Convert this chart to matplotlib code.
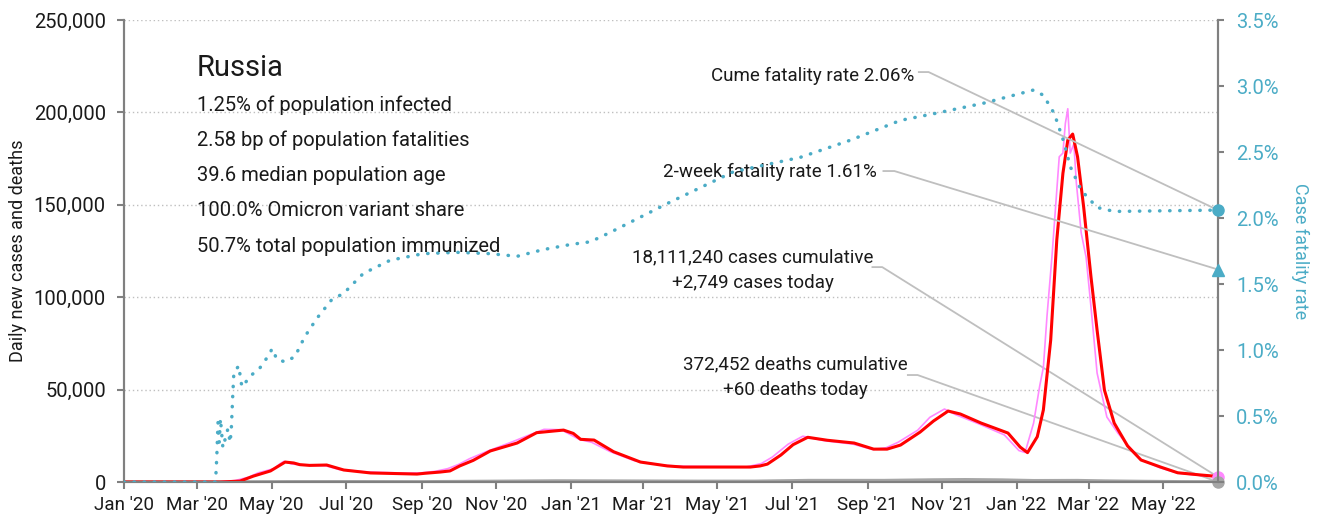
import matplotlib
matplotlib.use("Agg")
import matplotlib.pyplot as plt
import matplotlib.dates as mdates
import numpy as np
import pandas as pd

plt.rcParams['font.family'] = ['Roboto', 'DejaVu Sans']

# daily new cases, 7-day average
avg_dates = ["2020-01-01", "2020-03-20", "2020-04-05", "2020-04-16", "2020-04-30", "2020-05-04",
             "2020-05-12", "2020-05-19", "2020-05-24", "2020-06-01", "2020-06-15", "2020-06-29",
             "2020-07-21", "2020-08-03", "2020-08-28", "2020-09-03", "2020-09-16", "2020-09-24",
             "2020-10-02", "2020-10-13", "2020-10-27", "2020-11-18", "2020-12-04", "2020-12-18",
             "2020-12-26", "2021-01-03", "2021-01-09", "2021-01-20", "2021-02-05", "2021-02-27",
             "2021-03-21", "2021-04-03", "2021-05-28", "2021-06-05", "2021-06-11", "2021-06-22",
             "2021-07-02", "2021-07-14", "2021-07-30", "2021-08-21", "2021-09-06", "2021-09-17",
             "2021-09-28", "2021-10-14", "2021-10-25", "2021-11-06", "2021-11-16", "2021-12-03",
             "2021-12-25", "2022-01-04", "2022-01-10", "2022-01-18", "2022-01-23", "2022-01-29",
             "2022-02-03", "2022-02-08", "2022-02-12", "2022-02-16", "2022-02-20", "2022-02-25",
             "2022-03-03", "2022-03-08", "2022-03-14", "2022-03-22", "2022-04-02", "2022-04-13",
             "2022-04-29", "2022-05-13", "2022-06-01", "2022-06-15"]
avg_cases = [0, 0, 500, 3200, 6000, 7600,
             10800, 10300, 9400, 9000, 9200, 6500,
             4900, 4700, 4300, 4700, 5400, 6000,
             8700, 11700, 16800, 21100, 26700, 27600,
             28100, 26300, 23100, 22700, 16400, 10800,
             8700, 8100, 8100, 8700, 9700, 14600,
             20200, 24200, 22600, 21100, 17800, 17800,
             20000, 27000, 33000, 38400, 36800, 31900,
             26500, 18900, 15900, 24500, 39000, 76800,
             131000, 167000, 185000, 188300, 176000, 148800,
             111000, 82200, 49800, 31900, 19500, 11900,
             8100, 5000, 3800, 3000]

# daily new cases, as reported
raw_dates = ["2020-01-01", "2020-03-18", "2020-04-01", "2020-04-12", "2020-04-20", "2020-04-27",
             "2020-05-03", "2020-05-08", "2020-05-11", "2020-05-17", "2020-05-25", "2020-06-05",
             "2020-06-14", "2020-06-25", "2020-07-15", "2020-07-30", "2020-08-20", "2020-09-01",
             "2020-09-12", "2020-09-22", "2020-10-01", "2020-10-10", "2020-10-24", "2020-11-15",
             "2020-11-30", "2020-12-10", "2020-12-24", "2021-01-01", "2021-01-08", "2021-01-18",
             "2021-02-02", "2021-02-22", "2021-03-18", "2021-04-05", "2021-05-25", "2021-06-06",
             "2021-06-15", "2021-06-28", "2021-07-10", "2021-07-28", "2021-08-20", "2021-09-05",
             "2021-09-16", "2021-09-26", "2021-10-12", "2021-10-22", "2021-11-03", "2021-11-12",
             "2021-12-01", "2021-12-22", "2022-01-03", "2022-01-08", "2022-01-15", "2022-01-20",
             "2022-01-23", "2022-01-26", "2022-01-30", "2022-02-05", "2022-02-08", "2022-02-10",
             "2022-02-12", "2022-02-14", "2022-02-17", "2022-02-19", "2022-02-23", "2022-02-27",
             "2022-03-03", "2022-03-08", "2022-03-16", "2022-03-25", "2022-04-02", "2022-04-12",
             "2022-04-28", "2022-05-13", "2022-06-01", "2022-06-15"]
raw_cases = [0, 0, 800, 2600, 5000, 6200,
             7300, 10000, 11200, 9800, 9200, 9000,
             8800, 6800, 5600, 5200, 4800, 5000,
             5800, 7200, 9500, 12600, 16500, 22000,
             26000, 28500, 28300, 25500, 23000, 21500,
             16500, 11500, 9000, 8500, 8200, 10000,
             13500, 20500, 24800, 22300, 20500, 17600,
             18500, 21500, 28000, 35000, 39500, 36500,
             31500, 25500, 17000, 16000, 31900, 52000,
             62000, 90000, 121700, 176000, 178000, 194000,
             202000, 178000, 183000, 162000, 134700, 121700,
             94700, 59000, 35200, 26500, 20000, 12500,
             7800, 4800, 3500, 2749]

# daily deaths, 7-day average
death_dates = ["2020-01-01", "2020-04-01", "2020-05-15", "2020-07-01", "2020-09-01", "2020-12-20",
               "2021-02-01", "2021-04-15", "2021-06-01", "2021-07-15", "2021-09-15", "2021-10-25",
               "2021-11-20", "2021-12-20", "2022-01-15", "2022-02-20", "2022-03-15", "2022-04-15",
               "2022-05-15", "2022-06-15"]
deaths = [0, 10, 130, 150, 100, 560,
          500, 360, 380, 780, 780, 1100,
          1230, 1050, 700, 760, 500, 280,
          120, 60]

# cumulative case fatality rate, %
cfr_dates = ["2020-01-01", "2020-03-16", "2020-03-17", "2020-03-18", "2020-03-19", "2020-03-20",
             "2020-03-21", "2020-03-22", "2020-03-24", "2020-03-26", "2020-03-28", "2020-03-29",
             "2020-03-30", "2020-03-31", "2020-04-04", "2020-04-06", "2020-04-07", "2020-04-13",
             "2020-04-21", "2020-04-30", "2020-05-01", "2020-05-03", "2020-05-05", "2020-05-12",
             "2020-05-20", "2020-05-28", "2020-06-07", "2020-06-19", "2020-06-29", "2020-07-15",
             "2020-08-06", "2020-09-02", "2020-09-30", "2020-10-27", "2020-11-18", "2020-12-09",
             "2021-01-01", "2021-01-17", "2021-02-02", "2021-03-21", "2021-05-14", "2021-07-08",
             "2021-08-18", "2021-09-28", "2021-10-25", "2021-12-05", "2022-01-15", "2022-01-23",
             "2022-02-01", "2022-02-09", "2022-02-14", "2022-02-23", "2022-03-08", "2022-03-22",
             "2022-06-15"]
cfr = [0, 0, 0.19, 0.45, 0.30, 0.48,
       0.37, 0.26, 0.33, 0.40, 0.30, 0.42,
       0.64, 0.83, 0.88, 0.75, 0.72, 0.80,
       0.86, 0.98, 1.01, 0.98, 0.93, 0.91,
       0.95, 1.10, 1.24, 1.38, 1.43, 1.58,
       1.68, 1.73, 1.74, 1.73, 1.71, 1.76,
       1.80, 1.82, 1.89, 2.11, 2.35, 2.46,
       2.59, 2.74, 2.79, 2.87, 2.97, 2.93,
       2.79, 2.57, 2.39, 2.21, 2.08, 2.05,
       2.06]

cume_cfr = 2.06
two_week_cfr = 1.61
cases_total = 18111240
cases_today = 2749
deaths_total = 372452
deaths_today = 60

stats = ["1.25% of population infected",
         "2.58 bp of population fatalities",
         "39.6 median population age",
         "100.0% Omicron variant share",
         "50.7% total population immunized"]

teal = "#4bacc6"
grey = "#808080"
light = "#bfbfbf"
ink = "#1a1a1a"

avg_dates = pd.to_datetime(avg_dates)
raw_dates = pd.to_datetime(raw_dates)
death_dates = pd.to_datetime(death_dates)
cfr_dates = pd.to_datetime(cfr_dates)
last = raw_dates[-1]

fig = plt.figure(figsize=(13.19, 5.22), dpi=100)
ax = fig.add_axes([0.094, 0.0766, 0.8294, 0.885])
ax2 = ax.twinx()

ax.set_xlim(pd.Timestamp("2020-01-01"), last)
ax.set_ylim(0, 250000)
ax2.set_ylim(0, 3.5)

for v in [50000, 100000, 150000, 200000, 250000]:
    ax.axhline(v, color=light, lw=1, ls=(0, (1, 2)), zorder=0)

ax.plot(death_dates, deaths, color="#a6a6a6", lw=2.5, zorder=2)
ax.plot(raw_dates, raw_cases, color="#ff88ff", lw=1.2, zorder=3)
ax.plot(avg_dates, avg_cases, color="#ff0000", lw=2.2, zorder=4)
ax2.plot(cfr_dates, cfr, color=teal, lw=2.5, ls=(0, (0.1, 2.8)),
         dash_capstyle="round", zorder=5)

# end-of-series markers
ax.plot([last], [cases_today], "o", color="#ff88ff", ms=8, clip_on=False, zorder=6)
ax.plot([last], [deaths_today], "o", color="#a6a6a6", ms=8, clip_on=False, zorder=6)
ax2.plot([last], [cume_cfr], "o", color=teal, ms=8, clip_on=False, zorder=6)
ax2.plot([last], [two_week_cfr], "^", color=teal, ms=9, clip_on=False, zorder=6)

# leader lines from labels to the latest values
def leader(axis, x0, y0, x1, y1, x2, y2):
    axis.plot([pd.Timestamp(x0), pd.Timestamp(x1), x2], [y0, y1, y2],
              color=light, lw=1.3, clip_on=False, zorder=1)

leader(ax2, "2021-10-13", 3.106, "2021-10-21", 3.106, last, cume_cfr)
leader(ax2, "2021-09-14", 2.356, "2021-09-23", 2.356, last, two_week_cfr)
leader(ax, "2021-09-05", 116300, "2021-09-13", 116300, last, cases_today)
leader(ax, "2021-10-04", 57900, "2021-10-12", 57900, last, deaths_today)

ax2.text(pd.Timestamp("2021-10-09"), 3.08, f"Cume fatality rate {cume_cfr:.2f}%",
         ha="right", va="center", fontsize=13.5, color=ink)
ax2.text(pd.Timestamp("2021-09-09"), 2.35, f"2-week fatality rate {two_week_cfr:.2f}%",
         ha="right", va="center", fontsize=13.5, color=ink)
ax.text(pd.Timestamp("2021-05-30"), 114700,
        f"{cases_total:,} cases cumulative\n+{cases_today:,} cases today",
        ha="center", va="center", fontsize=13.5, color=ink, linespacing=1.55)
ax.text(pd.Timestamp("2021-07-04"), 56800,
        f"{deaths_total:,} deaths cumulative\n+{deaths_today:,} deaths today",
        ha="center", va="center", fontsize=13.5, color=ink, linespacing=1.55)

fig.text(0.1494, 1 - 68 / 522, "Russia", fontsize=21, va="center", color=ink)
for i, s in enumerate(stats):
    fig.text(0.1494, 1 - (105 + 35.3 * i) / 522, s, fontsize=14.5, va="center", color=ink)

# axes styling
for a in (ax, ax2):
    a.spines["top"].set_visible(False)
    for side in ("left", "right", "bottom"):
        a.spines[side].set_color(grey)
        a.spines[side].set_linewidth(1.5)

ax.yaxis.set_major_locator(matplotlib.ticker.MultipleLocator(50000))
ax.yaxis.set_major_formatter(matplotlib.ticker.FuncFormatter(lambda v, p: f"{v:,.0f}"))
ax2.yaxis.set_major_locator(matplotlib.ticker.MultipleLocator(0.5))
ax2.yaxis.set_major_formatter(matplotlib.ticker.FuncFormatter(lambda v, p: f"{v:.1f}%"))

ax.xaxis.set_major_locator(mdates.MonthLocator(bymonth=[1, 3, 5, 7, 9, 11]))
ax.xaxis.set_major_formatter(mdates.DateFormatter("%b '%y"))

ax.tick_params(axis="y", length=5, width=1.5, color=grey, labelsize=14.5, pad=8, labelcolor=ink)
ax.tick_params(axis="x", length=5, width=1.5, color=grey, labelsize=13.5, pad=5, labelcolor=ink)
ax2.tick_params(axis="y", length=4, width=1.5, color=grey, labelsize=14.5, pad=9, labelcolor=teal)

ax.set_ylabel("Daily new cases and deaths", fontsize=13, color=ink, va="center")
ax.yaxis.set_label_coords(-0.097, 0.5)
ax2.set_ylabel("Case fatality rate", fontsize=13, color=teal, rotation=-90, va="center")
ax2.yaxis.set_label_coords(1.075, 0.5)

fig.savefig("out.png", dpi=100)
